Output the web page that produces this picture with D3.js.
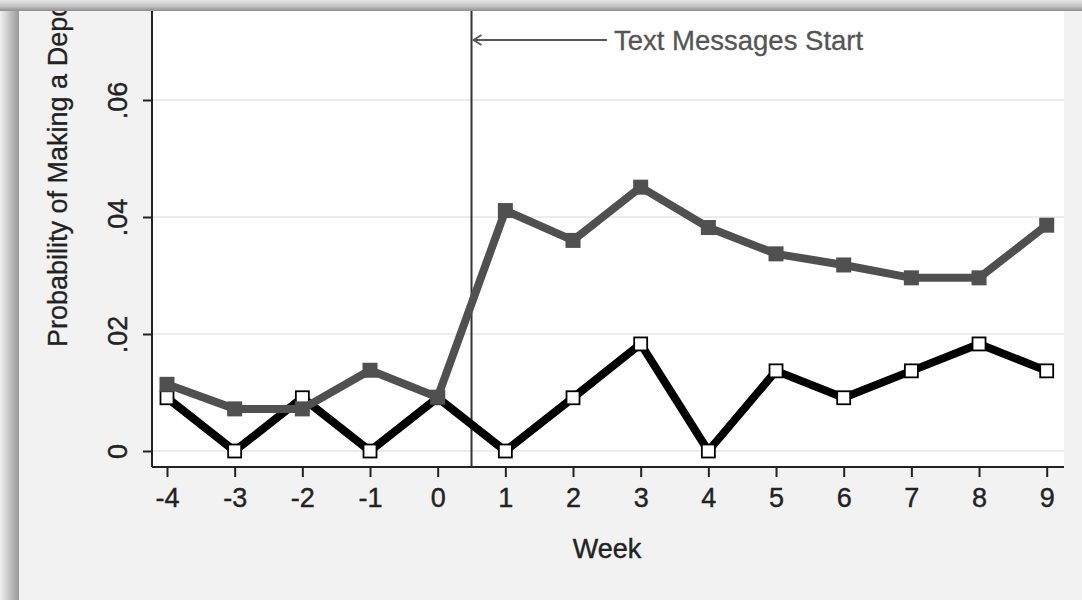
<!DOCTYPE html>
<html>
<head>
<meta charset="utf-8">
<script src="https://cdn.jsdelivr.net/npm/d3@7"></script>
<style>
  html, body { margin: 0; padding: 0; background: #f2f2f2; }
  svg { display: block; }
  text { font-family: "Liberation Sans", Arial, sans-serif; }
</style>
</head>
<body>
<svg id="chart" width="1082" height="600"></svg>
<script>
// Weekly deposit probabilities
const weeks = [-4, -3, -2, -1, 0, 1, 2, 3, 4, 5, 6, 7, 8, 9];
const treated = [0.0114, 0.0072, 0.0072, 0.0138, 0.0092, 0.0411, 0.0360, 0.0451, 0.0382, 0.0337, 0.0318, 0.0296, 0.0296, 0.0386];
const control = [0.0091, 0, 0.0091, 0, 0.0091, 0, 0.0091, 0.0183, 0, 0.0137, 0.0091, 0.0137, 0.0183, 0.0137];
const yTicks = [0, 0.02, 0.04, 0.06];
const yTickLabels = ["0", ".02", ".04", ".06"];
const eventWeek = 0.5;
const eventLabel = "Text Messages Start";
const xTitle = "Week";
const yTitle = "Probability of Making a Deposit";

const svg = d3.select("#chart");
const W = 1082, H = 600;

// plot area geometry
const plot = { left: 152, right: 1064, top: 11, bottom: 467 };
const x = d3.scaleLinear().domain([-4, 9]).range([167, 1046.7]);
const y = d3.scaleLinear().domain([0, 0.06]).range([451, 100]);

const labelFont = "'Liberation Sans', Arial, sans-serif";

// graph background
svg.append("rect").attr("width", W).attr("height", H).attr("fill", "#f2f2f2");

// white plot region
svg.append("rect")
  .attr("x", plot.left).attr("y", 0)
  .attr("width", plot.right - plot.left).attr("height", plot.bottom)
  .attr("fill", "#ffffff");

// horizontal gridlines
svg.append("g").selectAll("line").data(yTicks).join("line")
  .attr("x1", plot.left).attr("x2", plot.right)
  .attr("y1", d => y(d)).attr("y2", d => y(d))
  .attr("stroke", "#ececec").attr("stroke-width", 2);

// y axis
const yAxis = svg.append("g").attr("transform", `translate(${plot.left},0)`)
  .call(d3.axisLeft(y).tickValues(yTicks).tickSize(9).tickFormat((d, i) => yTickLabels[i]));
yAxis.select(".domain").attr("d", `M0,0V${plot.bottom}`).attr("stroke", "#222").attr("stroke-width", 2);
yAxis.selectAll(".tick line").attr("stroke", "#222").attr("stroke-width", 2);
yAxis.selectAll(".tick text")
  .attr("x", 0).attr("y", 0).attr("dy", null)
  .attr("text-anchor", "middle")
  .attr("transform", "translate(-25,0) rotate(-90)")
  .attr("font-size", 27).attr("fill", "#222")
  .attr("stroke", "#222").attr("stroke-width", 0.4)
  .attr("font-family", labelFont);

// x axis
const xAxis = svg.append("g").attr("transform", `translate(0,${plot.bottom})`)
  .call(d3.axisBottom(x).tickValues(weeks).tickSize(10).tickFormat(d3.format("d")));
xAxis.select(".domain").attr("d", `M${plot.left},0H${plot.right}`).attr("stroke", "#222").attr("stroke-width", 2);
xAxis.selectAll(".tick line").attr("stroke", "#222").attr("stroke-width", 2);
xAxis.selectAll(".tick text")
  .attr("y", 40).attr("dy", null)
  .attr("font-size", 27).attr("fill", "#222")
  .attr("stroke", "#222").attr("stroke-width", 0.4)
  .attr("font-family", labelFont)
  .text(d => d < 0 ? "-" + Math.abs(d) : d);

// axis titles
svg.append("text")
  .attr("x", 607).attr("y", 558)
  .attr("text-anchor", "middle")
  .attr("font-size", 27).attr("fill", "#222")
  .attr("stroke", "#222").attr("stroke-width", 0.4)
  .text(xTitle);

svg.append("text")
  .attr("transform", "translate(67,347) rotate(-90)")
  .attr("text-anchor", "start")
  .attr("font-size", 27).attr("fill", "#222")
  .attr("stroke", "#222").attr("stroke-width", 0.3)
  .text(yTitle);

// event line
svg.append("line")
  .attr("x1", x(eventWeek)).attr("x2", x(eventWeek))
  .attr("y1", 0).attr("y2", plot.bottom)
  .attr("stroke", "#333").attr("stroke-width", 2);

// annotation arrow and label
const arrowY = 40;
const ax0 = x(eventWeek) + 2, ax1 = 607;
svg.append("line")
  .attr("x1", ax0).attr("x2", ax1).attr("y1", arrowY).attr("y2", arrowY)
  .attr("stroke", "#555").attr("stroke-width", 2.2);
svg.append("path")
  .attr("d", `M${ax0 + 8},${arrowY - 5}L${ax0},${arrowY}L${ax0 + 8},${arrowY + 5}`)
  .attr("fill", "none").attr("stroke", "#555").attr("stroke-width", 1.8);
svg.append("text")
  .attr("x", 614).attr("y", 50)
  .attr("font-size", 27.5).attr("fill", "#555")
  .attr("stroke", "#555").attr("stroke-width", 0.3)
  .text(eventLabel);

const line = d3.line().x(d => x(d[0])).y(d => y(d[1]));
const controlPts = weeks.map((w, i) => [w, control[i]]);
const treatedPts = weeks.map((w, i) => [w, treated[i]]);

// control series: black line with hollow squares
svg.append("path").datum(controlPts)
  .attr("d", line).attr("fill", "none")
  .attr("stroke", "#000").attr("stroke-width", 8).attr("stroke-linejoin", "round");
const ms = 13;
svg.append("g").selectAll("rect").data(controlPts).join("rect")
  .attr("x", d => x(d[0]) - ms / 2).attr("y", d => y(d[1]) - ms / 2)
  .attr("width", ms).attr("height", ms)
  .attr("fill", "#fff").attr("stroke", "#000").attr("stroke-width", 1.8);

// treated series: gray line with solid squares
svg.append("path").datum(treatedPts)
  .attr("d", line).attr("fill", "none")
  .attr("stroke", "#505050").attr("stroke-width", 8).attr("stroke-linejoin", "round");
const gs = 15;
svg.append("g").selectAll("rect").data(treatedPts).join("rect")
  .attr("x", d => x(d[0]) - gs / 2).attr("y", d => y(d[1]) - gs / 2)
  .attr("width", gs).attr("height", gs)
  .attr("fill", "#505050");

// window frame: shaded top bar and left edge
const defs = svg.append("defs");
const gTop = defs.append("linearGradient").attr("id", "topbar").attr("x1", 0).attr("y1", 0).attr("x2", 0).attr("y2", 1);
gTop.append("stop").attr("offset", "0%").attr("stop-color", "#e6e6e6");
gTop.append("stop").attr("offset", "55%").attr("stop-color", "#c4c4c4");
gTop.append("stop").attr("offset", "100%").attr("stop-color", "#8e8e8e");
const gLeft = defs.append("linearGradient").attr("id", "leftbar").attr("x1", 0).attr("y1", 0).attr("x2", 1).attr("y2", 0);
gLeft.append("stop").attr("offset", "0%").attr("stop-color", "#efefef");
gLeft.append("stop").attr("offset", "45%").attr("stop-color", "#c8c8c8");
gLeft.append("stop").attr("offset", "100%").attr("stop-color", "#9a9a9a");

svg.append("rect").attr("x", 0).attr("y", 0).attr("width", 19).attr("height", H).attr("fill", "url(#leftbar)");
svg.append("rect").attr("x", 0).attr("y", 0).attr("width", W).attr("height", 11).attr("fill", "url(#topbar)");
</script>
</body>
</html>
